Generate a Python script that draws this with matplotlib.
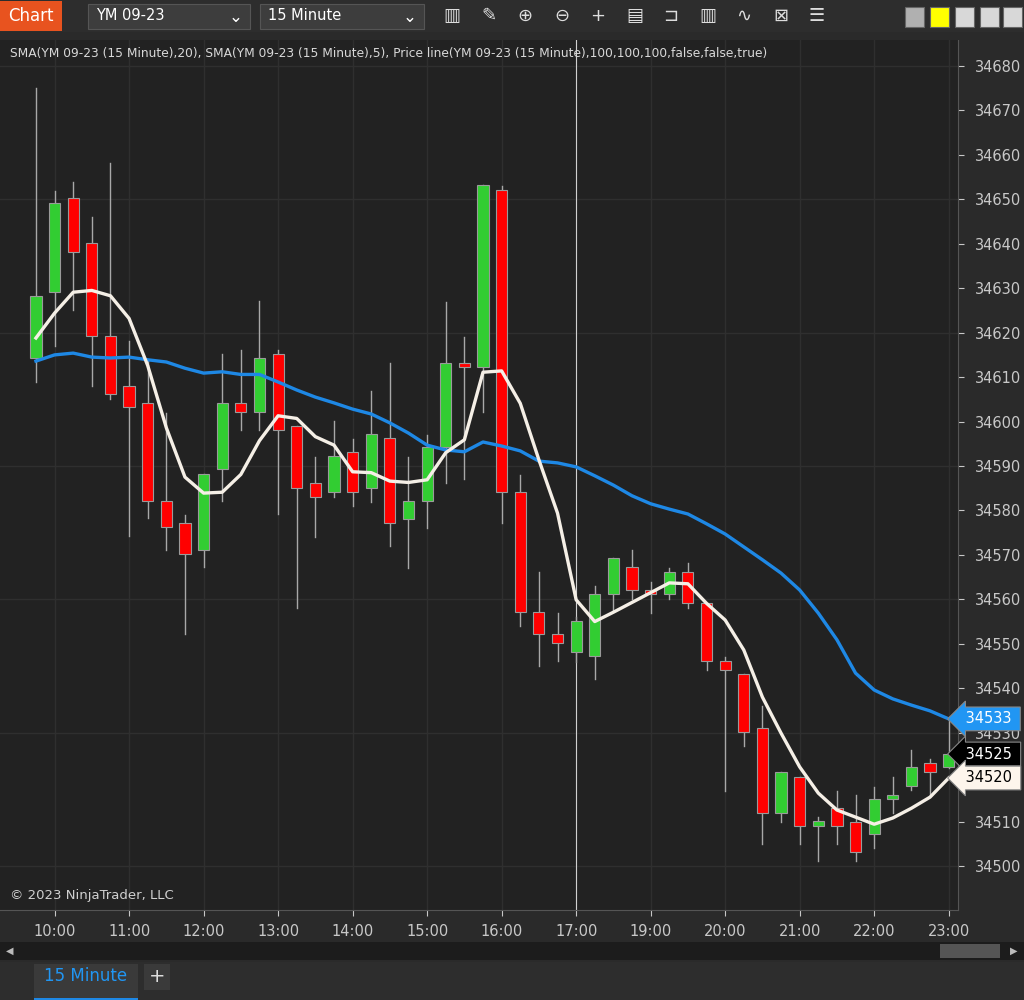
import matplotlib
matplotlib.use("Agg")
import matplotlib.pyplot as plt
from matplotlib.patches import Rectangle

opens  = [34614.3,34629.2,34650.2,34640.2,34619.2,34608.1,34604.2,34582.1,34577.2,34571.2,
          34589.3,34604.2,34602.1,34615.3,34599.1,34586.1,34584.2,34593.2,34585.1,34596.2,
          34578.1,34582.1,34594.2,34613.2,34612.2,34652.1,34584.1,34557.1,34552.2,34548.2,
          34547.2,34561.1,34567.2,34562.0,34561.1,34566.2,34559.1,34546.2,34543.3,34531.1,
          34512.0,34520.0,34509.1,34513.1,34510.0,34507.1,34515.0,34518.0,34523.2,34522.2]
closes = [34628.3,34649.1,34638.2,34619.2,34606.1,34603.2,34582.1,34576.3,34570.2,34588.1,
          34604.2,34602.1,34614.2,34598.2,34585.1,34583.0,34592.3,34584.2,34597.1,34577.1,
          34582.1,34594.2,34613.2,34612.2,34653.2,34584.1,34557.1,34552.2,34550.2,34555.1,
          34561.1,34569.2,34562.1,34561.1,34566.2,34559.1,34546.1,34544.2,34530.1,34512.0,
          34521.2,34509.1,34510.1,34509.1,34503.2,34515.0,34516.0,34522.2,34521.2,34525.2]
highs  = [34675.0,34651.9,34654.0,34646.0,34658.2,34618.1,34613.9,34602.0,34579.0,34588.1,
          34615.2,34616.1,34627.1,34616.1,34599.1,34592.1,34600.1,34596.1,34606.9,34613.1,
          34592.1,34597.0,34627.0,34619.1,34653.2,34653.0,34588.0,34566.1,34556.9,34556.0,
          34562.9,34569.2,34571.1,34563.8,34567.1,34568.1,34559.1,34547.1,34543.3,34536.0,
          34521.2,34520.0,34511.0,34516.9,34516.0,34517.8,34520.1,34526.1,34524.1,34533.5]
lows   = [34609.0,34617.0,34625.1,34608.0,34605.1,34574.2,34578.3,34571.0,34552.2,34567.3,
          34582.1,34598.1,34598.1,34579.2,34558.0,34574.1,34583.0,34581.0,34582.0,34572.1,
          34567.1,34576.1,34586.1,34587.0,34602.1,34577.1,34554.1,34545.1,34546.1,34546.0,
          34542.0,34557.7,34560.0,34557.0,34560.0,34558.0,34544.1,34516.9,34527.0,34505.0,
          34509.9,34505.0,34501.1,34505.0,34501.1,34504.1,34512.0,34517.0,34516.0,34522.0]
sma20 = [34613.6,34615.0,34615.4,34614.5,34614.3,34614.5,34613.9,34613.4,34612.0,34610.9,
         34611.2,34610.6,34610.6,34608.9,34607.1,34605.5,34604.2,34602.8,34601.7,34599.7,
         34597.4,34594.7,34593.6,34593.2,34595.4,34594.5,34593.4,34591.1,34590.7,34589.8,
         34587.8,34585.7,34583.3,34581.5,34580.3,34579.2,34577.0,34574.7,34571.8,34568.9,
         34565.9,34562.1,34556.9,34550.9,34543.4,34539.6,34537.6,34536.2,34534.9,34533.1]
sma5 = [34618.8,34624.4,34629.1,34629.5,34628.3,34623.2,34612.6,34598.6,34587.5,34583.9,
        34584.1,34588.1,34595.7,34601.3,34600.7,34596.6,34594.7,34588.7,34588.5,34586.6,
        34586.3,34586.9,34593.0,34595.9,34611.1,34611.4,34604.1,34591.4,34579.4,34559.9,
        34555.0,34557.1,34559.3,34561.5,34563.7,34563.5,34559.1,34555.35,34548.6,34538.0,
        34529.9,34522.3,34516.4,34512.6,34511.0,34509.4,34510.8,34513.0,34515.5,34519.8]
tick_idx = [1, 5, 9, 13, 17, 21, 25, 29, 33, 37, 41, 45, 49]
tick_lbl = ["10:00","11:00","12:00","13:00","14:00","15:00","16:00","17:00","19:00",
            "20:00","21:00","22:00","23:00"]
cursor_idx = 29

plt.rcParams['font.family'] = ['DejaVu Sans', 'Noto Sans']
BG = "#222222"
fig = plt.figure(figsize=(10.24, 10.0), dpi=100, facecolor="#2a2a2a")
W, H = 1024, 1000
def fx(px): return px / W
def fy(py): return 1 - py / H

ax = fig.add_axes([fx(0), fy(910), fx(958), (910 - 40) / H])
ax.set_facecolor(BG)
n = len(opens)
ax.set_xlim(-1.93, 49.5)
ax.set_ylim(34490.1, 34685.85)
for s in ax.spines.values():
    s.set_visible(False)
ax.spines["right"].set_visible(True); ax.spines["right"].set_color("#555555")
ax.spines["bottom"].set_visible(True); ax.spines["bottom"].set_color("#555555")

for t in tick_idx:
    ax.axvline(t, color="#2f2f2f", lw=1, zorder=0)
for p in range(34500, 34690, 30):
    ax.axhline(p, color="#2f2f2f", lw=1, zorder=0)
ax.axvline(cursor_idx, color="#d0d0d0", lw=0.8, zorder=1)

bw = 0.6
for i in range(n):
    o, c, h, l = opens[i], closes[i], highs[i], lows[i]
    col = "#32cd32" if c >= o else "#ff0000"
    ax.plot([i, i], [l, h], color="#a8a8a8", lw=1, zorder=2)
    bot, top = min(o, c), max(o, c)
    ax.add_patch(Rectangle((i - bw / 2, bot), bw, max(top - bot, 0.6), facecolor=col,
                           edgecolor="#9a9a9a", lw=0.8, zorder=3))
ax.plot(range(n), sma20, color="#1e88e5", lw=2.4, zorder=4)
ax.plot(range(n), sma5, color="#f5efe6", lw=2.4, zorder=5)

ax.yaxis.tick_right()
ax.set_yticks(range(34500, 34681, 10))
ax.tick_params(axis="y", colors="#c8c8c8", labelsize=10.5, length=4, pad=8)
ax.set_xticks(tick_idx)
ax.set_xticklabels(tick_lbl)
ax.tick_params(axis="x", colors="#c8c8c8", labelsize=10.5, length=4, pad=6)

fig.text(fx(10), fy(53), "SMA(YM 09-23 (15 Minute),20), SMA(YM 09-23 (15 Minute),5), Price line(YM 09-23 (15 Minute),100,100,100,false,false,true)",
         color="#d8d8d8", fontsize=8.8, va="center", ha="left")
fig.text(fx(10), fy(895), "© 2023 NinjaTrader, LLC", color="#d0d0d0", fontsize=9.5, ha="left", va="center")

for val, fc, tc in [(sma20[-1], "#2196f3", "white"), (closes[-1], "black", "white"),
                    (sma5[-1], "#fdf5ec", "black")]:
    ax.annotate(f" {round(val)} ", xy=(1.0, val), xycoords=("axes fraction", "data"),
                xytext=(2, 0), textcoords="offset points", ha="left", va="center",
                fontsize=10.5, color=tc, annotation_clip=False,
                bbox=dict(boxstyle="larrow,pad=0.3", fc=fc, ec="#888888", lw=0.8), zorder=10)

fig.patches.append(Rectangle((0, fy(32)), 1, 32 / H, transform=fig.transFigure, fc="#2d2d2d", ec="none"))
fig.patches.append(Rectangle((0, fy(31)), fx(62), 30 / H, transform=fig.transFigure, fc="#e8531f", ec="none"))
fig.text(fx(31), fy(16), "Chart", color="white", fontsize=12, ha="center", va="center")
for x0, x1, lbl in [(88, 250, "YM 09-23"), (260, 424, "15 Minute")]:
    fig.patches.append(Rectangle((fx(x0), fy(29)), fx(x1 - x0), 25 / H, transform=fig.transFigure,
                                 fc="#3d3d3d", ec="#555555", lw=0.8))
    fig.text(fx(x0 + 8), fy(16), lbl, color="white", fontsize=10.5, va="center")
    fig.text(fx(x1 - 14), fy(17), "⌄", color="white", fontsize=12, va="center", ha="center")
for k, g in enumerate(["▥", "✎", "⊕", "⊖", "+", "▤", "⊐", "▥", "∿", "⊠", "☰"]):
    fig.text(fx(452 + k * 36.5), fy(16), g, color="#dddddd", fontsize=13, ha="center", va="center")
for x0, c in [(905, "#b0b0b0"), (930, "#ffff00"), (955, "#d8d8d8"), (980, "#d8d8d8"), (1003, "#d8d8d8")]:
    fig.patches.append(Rectangle((fx(x0), fy(27)), fx(19), 20 / H, transform=fig.transFigure,
                                 fc=c, ec="#666666", lw=0.8))
fig.patches.append(Rectangle((0, fy(40)), 1, 8 / H, transform=fig.transFigure, fc="#2a2a2a", ec="none"))
fig.patches.append(Rectangle((0, fy(960)), 1, 18 / H, transform=fig.transFigure, fc="#1c1c1c", ec="none"))
fig.patches.append(Rectangle((fx(940), fy(958)), fx(60), 14 / H, transform=fig.transFigure, fc="#555555", ec="none"))
fig.text(fx(10), fy(951), "◀", color="#bbbbbb", fontsize=7, ha="center", va="center")
fig.text(fx(1014), fy(951), "▶", color="#bbbbbb", fontsize=7, ha="center", va="center")
fig.patches.append(Rectangle((0, 0), 1, 38 / H, transform=fig.transFigure, fc="#2d2d2d", ec="none"))
fig.patches.append(Rectangle((fx(34), 0), fx(104), 36 / H, transform=fig.transFigure, fc="#3a3a3a", ec="none"))
fig.patches.append(Rectangle((fx(34), 0), fx(104), 2 / H, transform=fig.transFigure, fc="#1e88e5", ec="none"))
fig.text(fx(86), fy(976), "15 Minute", color="#2196f3", fontsize=12, ha="center", va="center")
fig.patches.append(Rectangle((fx(144), fy(990)), fx(26), 26 / H, transform=fig.transFigure, fc="#3a3a3a", ec="none"))
fig.text(fx(157), fy(976), "+", color="#dddddd", fontsize=14, ha="center", va="center")

fig.savefig("out.png", dpi=100, facecolor=fig.get_facecolor())
